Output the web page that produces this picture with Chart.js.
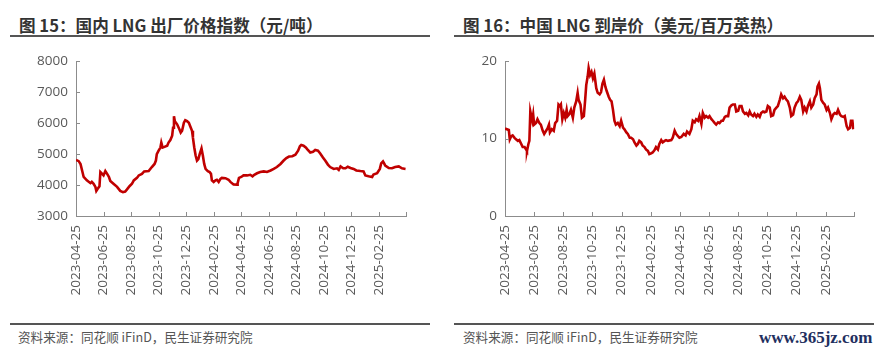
<!DOCTYPE html>
<html><head><meta charset="utf-8">
<script src="https://cdn.jsdelivr.net/npm/chart.js@4.4.1/dist/chart.umd.min.js"></script>
<style>
html,body{margin:0;padding:0;background:#fff;}
body{width:882px;height:357px;position:relative;overflow:hidden;font-family:"Noto Sans CJK SC",sans-serif;}
.title{position:absolute;top:13px;font-size:16.6px;font-weight:bold;color:#333;white-space:nowrap;line-height:24px;}
.rule{position:absolute;height:2px;background:#555;}
.src{position:absolute;top:328px;font-size:12.6px;color:#555;line-height:18px;white-space:nowrap;}
.wm{position:absolute;left:759px;top:327px;font-family:"Liberation Serif",serif;font-size:17px;font-weight:bold;color:#1f3060;line-height:22px;white-space:nowrap;}
canvas{position:absolute;top:45px;}
</style>
</head><body>
<div class="title" style="left:19px">图 15：国内 LNG 出厂价格指数（元/吨）</div>
<div class="title" style="left:463px">图 16：中国 LNG 到岸价（美元/百万英热）</div>
<div class="rule" style="left:10px;width:420px;top:35px"></div>
<div class="rule" style="left:454px;width:420px;top:35px"></div>
<canvas id="c1" width="441" height="261" style="left:0px"></canvas>
<canvas id="c2" width="441" height="261" style="left:441px"></canvas>
<div class="rule" style="left:10px;width:420px;top:323px"></div>
<div class="rule" style="left:454px;width:420px;top:323px"></div>
<div class="src" style="left:18px">资料来源：同花顺 iFinD，民生证券研究院</div>
<div class="src" style="left:463px">资料来源：同花顺 iFinD，民生证券研究院</div>
<div class="wm">www.365jz.com</div>
<script>
// ---- data ----
const startDate = '2023-04-25';
const tickDates = ['2023-04-25','2023-06-25','2023-08-25','2023-10-25','2023-12-25','2024-02-25','2024-04-25','2024-06-25','2024-08-25','2024-10-25','2024-12-25','2025-02-25','2025-04-25'];
const tickLabels = ['2023-04-25','2023-06-25','2023-08-25','2023-10-25','2023-12-25','2024-02-25','2024-04-25','2024-06-25','2024-08-25','2024-10-25','2024-12-25','2025-02-25',''];

// days since startDate
const lngIndexDays = [0,6,10,17,24,32,35,39,43,45,48,52,54,58,61,65,69,73,76,83,91,98,104,109,113,119,124,128,135,139,146,151,161,168,174,177,179,183,187,189,192,196,202,205,209,213,215,217,219,224,229,232,235,239,242,246,250,253,257,259,262,265,268,271,274,278,281,284,287,292,296,299,301,305,309,312,316,320,323,331,338,342,349,357,358,361,366,371,379,386,391,395,401,408,416,423,431,438,445,453,460,466,472,479,486,492,496,499,504,509,513,519,525,530,536,541,547,552,558,563,571,578,582,586,592,597,602,608,615,621,630,637,641,648,656,659,667,673,676,680,685,693,700,707,715,722,730];
const lngIndexValues = [4810,4770,4680,4260,4150,4060,4100,4040,3940,3810,3880,3960,4420,4360,4310,4450,4360,4260,4130,4040,3940,3810,3770,3790,3860,3970,4040,4150,4230,4310,4360,4440,4450,4580,4680,4790,5000,5110,5210,5370,5210,5230,5270,5370,5450,5590,5850,6220,6060,5960,5800,5690,5750,6010,6090,6060,6010,5900,5750,5530,5210,4950,4790,4840,5000,5180,4950,4680,4520,4450,4420,4360,4150,4100,4150,4170,4100,4200,4230,4220,4170,4100,4020,4010,4060,4230,4260,4310,4310,4330,4280,4330,4380,4420,4440,4420,4470,4520,4580,4680,4790,4870,4920,4930,4980,5110,5250,5290,5270,5210,5140,5050,5070,5130,5110,5020,4890,4790,4660,4580,4520,4540,4490,4600,4540,4540,4590,4550,4520,4470,4450,4440,4310,4280,4260,4340,4380,4520,4700,4760,4630,4550,4540,4580,4600,4540,4520];

const lngLandedDays = [0,4,8,10,13,16,20,23,27,30,34,37,41,44,46,49,51,53,55,57,59,61,65,68,72,75,79,82,86,89,92,94,98,102,105,109,112,115,117,120,123,126,129,131,135,138,142,145,149,152,154,158,161,165,168,170,173,175,178,181,184,187,191,194,198,201,204,207,210,213,217,220,223,226,229,232,236,240,243,247,250,254,257,261,264,268,271,275,278,281,285,288,292,295,299,302,306,309,313,316,320,323,327,330,334,337,341,348,351,355,358,362,365,369,374,378,381,386,390,393,397,400,404,407,411,414,418,421,425,428,432,435,439,442,446,449,453,456,460,463,467,470,474,477,481,484,488,491,495,498,502,505,509,512,515,519,522,526,529,533,536,540,543,547,550,554,557,561,564,568,571,575,578,582,585,589,592,596,599,603,606,610,613,617,620,624,627,631,634,638,641,645,648,652,654,657,659,662,666,669,673,676,680,683,687,690,694,697,701,704,708,711,715,718,722,724,727,729];
const lngLandedValues = [11.3,11.2,11.1,9.9,10.3,10.4,10.1,9.9,9.7,9.8,9.3,8.9,8.9,8.6,8.4,9.3,9.7,13.5,12.9,12.3,13.1,11.8,12.0,12.5,12.0,11.8,11.0,10.6,11.0,11.3,11.8,10.8,11.2,11.0,12.0,12.3,14.4,14.2,14.4,12.5,13.3,12.7,13.7,12.9,13.2,13.7,12.7,14.0,14.8,15.9,15.0,14.4,12.7,12.9,15.2,16.9,18.0,19.1,18.2,18.6,17.8,18.4,16.5,15.9,15.7,16.0,17.1,17.6,16.7,16.1,15.4,15.0,14.8,13.7,12.3,11.8,12.0,11.6,12.3,11.4,11.2,10.8,10.6,10.1,10.1,9.9,9.5,9.1,9.3,9.7,9.5,9.1,8.9,8.6,8.4,8.0,8.1,8.2,8.5,8.9,8.6,9.3,9.8,9.5,9.7,9.8,9.7,9.8,10.1,11.0,10.6,10.3,10.1,10.2,10.6,10.4,10.9,10.6,11.2,12.3,12.1,12.5,12.3,12.9,11.9,13.3,12.7,12.9,12.7,12.9,12.5,12.3,12.0,11.8,12.1,12.0,12.3,12.3,12.8,12.9,12.9,14.0,14.3,14.4,14.4,13.5,13.6,14.2,14.2,13.5,13.2,13.3,13.0,13.5,13.1,12.9,13.2,12.8,13.1,12.8,13.3,13.5,13.4,13.5,14.2,14.0,12.9,13.0,13.7,14.0,14.2,15.0,15.7,15.2,15.4,15.0,14.8,14.0,12.9,13.1,14.0,14.6,14.8,15.4,15.0,13.5,14.0,13.5,14.2,14.8,14.0,14.4,15.2,15.7,16.7,17.1,16.5,15.0,14.6,14.4,13.7,14.0,13.3,12.5,13.1,13.3,13.2,13.7,13.1,12.9,12.8,12.9,11.6,11.2,11.4,12.3,12.3,11.2];

// ---- helpers ----
const DAY = 86400000;
const toDay = s => { const [y,m,d] = s.split('-').map(Number); const [y0,m0,d0] = startDate.split('-').map(Number); return Math.round((Date.UTC(y,m-1,d) - Date.UTC(y0,m0-1,d0)) / DAY); };
const tickDays = tickDates.map(toDay);
const AXIS = '#8c8c8c';
const TXT = '#595959';
const RED = '#c00000';
const FONT = {family: '"Open Sans", sans-serif', size: 13.5};

const inwardTicks = {
  id: 'inwardTicks',
  afterDraw(chart) {
    const {ctx, chartArea: a, scales: {x, y}} = chart;
    ctx.save();
    ctx.strokeStyle = AXIS; ctx.lineWidth = 1;
    ctx.beginPath();
    x.ticks.forEach(t => { const px = Math.round(x.getPixelForValue(t.value)) + 0.5; ctx.moveTo(px, a.bottom); ctx.lineTo(px, a.bottom - 4); });
    y.ticks.forEach(t => { const py = Math.round(y.getPixelForValue(t.value)) + 0.5; ctx.moveTo(a.left, py); ctx.lineTo(a.left + 4, py); });
    ctx.stroke();
    ctx.restore();
  }
};

function makeChart(id, days, values, yMin, yMax, yStep, yWidth, padRight) {
  new Chart(document.getElementById(id), {
    type: 'line',
    data: { datasets: [{ data: days.map((d, i) => ({x: d, y: values[i]})), borderColor: RED, borderWidth: 2.6, pointRadius: 0, tension: 0, fill: false }] },
    options: {
      responsive: false, animation: false, devicePixelRatio: 1,
      layout: { padding: { top: 14.3, right: padRight, left: 0, bottom: 0 } },
      plugins: { legend: { display: false }, tooltip: { enabled: false } },
      scales: {
        x: {
          type: 'linear', min: 0, max: tickDays[tickDays.length - 1],
          afterBuildTicks: s => { s.ticks = tickDays.map(v => ({value: v})); },
          afterFit: s => { s.height = 90; },
          grid: { display: false, drawTicks: false },
          border: { display: true, color: AXIS, width: 1 },
          ticks: { autoSkip: false, minRotation: 90, maxRotation: 90, padding: 9, color: TXT, font: FONT,
                   callback: (v, i) => tickLabels[i] || '' }
        },
        y: {
          min: yMin, max: yMax,
          afterFit: s => { s.width = yWidth; },
          grid: { display: false, drawTicks: false },
          border: { display: true, color: AXIS, width: 1 },
          ticks: { stepSize: yStep, padding: 8, color: TXT, font: FONT, callback: v => String(v) }
        }
      }
    },
    plugins: [inwardTicks]
  });
}

makeChart('c1', lngIndexDays, lngIndexValues, 3000, 8000, 1000, 76, 35);
makeChart('c2', lngLandedDays, lngLandedValues, 0, 20, 10, 64, 27.7);
</script>
</body></html>
